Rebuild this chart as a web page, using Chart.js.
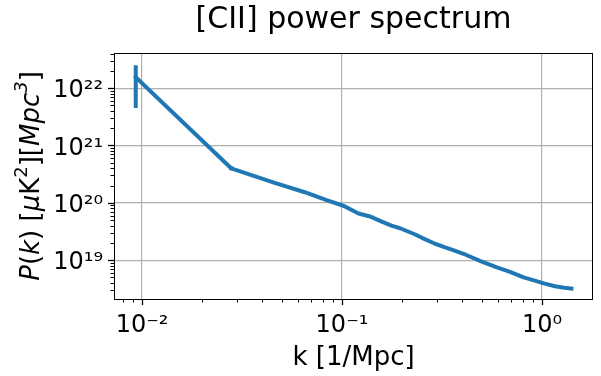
<!DOCTYPE html>
<html>
<head>
<meta charset="utf-8">
<script src="https://cdn.jsdelivr.net/npm/chart.js@4/dist/chart.umd.min.js"></script>
<style>
  body { margin: 0; background: #fff; }
  canvas { display: block; }
</style>
</head>
<body>
<canvas id="spectrum" width="601" height="376"></canvas>
<script>
// binned k values [1/Mpc] and the [CII] power P(k) [uK^2 Mpc^3]
const kValues = [0.0093, 0.0279, 0.0465, 0.0651, 0.0837, 0.1023, 0.1209, 0.1395, 0.1581, 0.1767,
  0.1953, 0.2325, 0.2511, 0.2883, 0.3255, 0.3627, 0.4185, 0.4929, 0.5859, 0.6975,
  0.8091, 0.9207, 1.0323, 1.1625, 1.2927, 1.4043];
const powerValues = [1.55e22, 4.0e20, 2.2e20, 1.53e20, 1.11e20, 8.8e19, 6.5e19, 5.7e19, 4.7e19, 4.0e19,
  3.6e19, 2.8e19, 2.45e19, 1.97e19, 1.68e19, 1.48e19, 1.23e19, 9.6e18, 7.6e18, 6.2e18,
  5.0e18, 4.4e18, 3.9e18, 3.5e18, 3.3e18, 3.2e18];

// error bars (only visible on the first few bins)
const errK = [0.0093, 0.0279, 0.0465];
const errLow = [4.5e21, 3.7e20, 2.1e20];
const errHigh = [2.5e22, 4.35e20, 2.3e20];

const titleText = '[CII] power spectrum';
const xLabel = 'k [1/Mpc]';

const blue = '#1f77b4';
Chart.defaults.font.family = 'DejaVu Sans';
Chart.defaults.color = '#000';

const supDigits = { '0': '⁰', '1': '¹', '2': '²', '3': '³', '4': '⁴', '5': '⁵', '6': '⁶', '7': '⁷', '8': '⁸', '9': '⁹', '-': '⁻' };
const sup = n => String(n).split('').map(c => supDigits[c]).join('');

const isDecade = v => {
  const e = Math.log10(v);
  return Math.abs(e - Math.round(e)) < 1e-6;
};
const isNice = v => {
  const m = v / Math.pow(10, Math.floor(Math.log10(v) + 1e-9));
  return Math.abs(m - Math.round(m)) < 1e-6;
};
const decadeLabel = v => isDecade(v) ? '10' + sup(Math.round(Math.log10(v))) : '';

const datasets = [{
  data: kValues.map((k, i) => ({ x: k, y: powerValues[i] })),
  showLine: true,
  borderColor: blue,
  borderWidth: 4,
  borderJoinStyle: 'round',
  borderCapStyle: 'square',
  pointRadius: 0,
  tension: 0
}];
errK.forEach((k, i) => {
  datasets.push({
    data: [{ x: k, y: errLow[i] }, { x: k, y: errHigh[i] }],
    showLine: true,
    borderColor: blue,
    borderWidth: 4,
    borderCapStyle: 'butt',
    pointRadius: 0
  });
});

// frame, tick marks and the text labels, matplotlib style
const decorations = {
  id: 'decorations',
  afterDraw(chart) {
    const ctx = chart.ctx;
    const area = chart.chartArea;
    const xs = chart.scales.x, ys = chart.scales.y;
    ctx.save();
    ctx.strokeStyle = '#000';
    ctx.lineWidth = 1;
    ctx.strokeRect(area.left + 0.5, area.top + 0.5, area.right - area.left - 1, area.bottom - area.top);

    xs.ticks.forEach(t => {
      const px = Math.round(xs.getPixelForValue(t.value)) + 0.5;
      const major = isDecade(t.value);
      ctx.lineWidth = major ? 1.3 : 1;
      ctx.beginPath();
      ctx.moveTo(px, area.bottom);
      ctx.lineTo(px, area.bottom + (major ? 6 : 3.5));
      ctx.stroke();
    });
    ys.ticks.forEach(t => {
      const py = Math.round(ys.getPixelForValue(t.value)) + 0.5;
      const major = isDecade(t.value);
      ctx.lineWidth = major ? 1.3 : 1;
      ctx.beginPath();
      ctx.moveTo(area.left, py);
      ctx.lineTo(area.left - (major ? 6 : 3.5), py);
      ctx.stroke();
    });

    const cx = (area.left + area.right) / 2;
    ctx.fillStyle = '#000';
    ctx.textAlign = 'center';
    ctx.textBaseline = 'alphabetic';
    ctx.font = '30px "DejaVu Sans"';
    ctx.fillText(titleText, cx, 28);
    ctx.font = '26px "DejaVu Sans"';
    ctx.fillText(xLabel, cx, 365);

    // y label with italic parts and superscripts
    const size = 26;
    const parts = [
      ['P', 'italic', 0], ['(', '', 0], ['k', 'italic', 0], [')', '', 0], [' [', '', 0],
      ['μ', 'italic', 0], ['K', '', 0], ['2', '', 1], ['][', '', 0],
      ['Mpc', 'italic', 0], ['3', 'italic', 1], [']', '', 0]
    ];
    const fontFor = p => (p[1] ? p[1] + ' ' : '') + (p[2] ? Math.round(size * 0.7) : size) + 'px "DejaVu Sans"';
    let total = 0;
    parts.forEach(p => { ctx.font = fontFor(p); total += ctx.measureText(p[0]).width; });
    ctx.translate(39, (area.top + area.bottom) / 2);
    ctx.rotate(-Math.PI / 2);
    ctx.textAlign = 'left';
    let pos = -total / 2;
    parts.forEach(p => {
      ctx.font = fontFor(p);
      ctx.fillText(p[0], pos, p[2] ? -size * 0.45 : 0);
      pos += ctx.measureText(p[0]).width;
    });
    ctx.restore();
  }
};

new Chart(document.getElementById('spectrum').getContext('2d'), {
  type: 'scatter',
  data: { datasets: datasets },
  plugins: [decorations],
  options: {
    responsive: false,
    animation: false,
    layout: { padding: { top: 53, right: 8, bottom: 0, left: 0 } },
    plugins: { legend: { display: false }, tooltip: { enabled: false }, title: { display: false } },
    scales: {
      x: {
        type: 'logarithmic',
        min: 0.00724,
        max: 1.8,
        afterBuildTicks: s => { s.ticks = s.ticks.filter(t => isNice(t.value)); },
        afterFit: s => { s.height = 77; },
        border: { display: false },
        grid: {
          drawTicks: false,
          lineWidth: 1.2,
          color: c => (c.tick && isDecade(c.tick.value)) ? '#b0b0b0' : 'rgba(0,0,0,0)'
        },
        ticks: {
          autoSkip: false,
          maxRotation: 0,
          padding: 12,
          font: { size: 24 },
          callback: v => decadeLabel(v)
        }
      },
      y: {
        type: 'logarithmic',
        min: 2.1e18,
        max: 4.1e22,
        afterBuildTicks: s => { s.ticks = s.ticks.filter(t => isNice(t.value)); },
        afterFit: s => { s.width = 114; },
        border: { display: false },
        grid: {
          drawTicks: false,
          lineWidth: 1.2,
          color: c => (c.tick && isDecade(c.tick.value)) ? '#b0b0b0' : 'rgba(0,0,0,0)'
        },
        ticks: {
          autoSkip: false,
          padding: 11,
          labelOffset: 3,
          font: { size: 24 },
          callback: v => decadeLabel(v)
        }
      }
    }
  }
});
</script>
</body>
</html>
